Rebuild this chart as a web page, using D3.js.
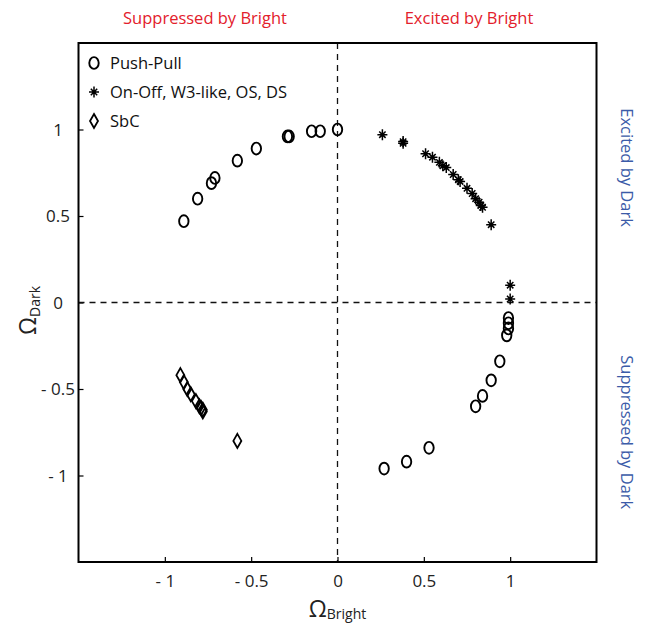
<!DOCTYPE html>
<html>
<head>
	<script src='https://d3js.org/d3.v7.min.js'></script>
	<style type="text/css">
		body { margin: 0; background: #fff; }
		text { font-family: 'Open Sans', sans-serif; }
	</style>
</head>
<body>
	<script type="text/javascript">
		// values
		var pushPullX = [-0.89, -0.81, -0.73, -0.71, -0.58, -0.47, -0.29, -0.28, -0.15, -0.10, 0.00,
			0.99, 0.99, 0.99, 0.98, 0.94, 0.89, 0.84, 0.80, 0.53, 0.40, 0.27];
		var pushPullY = [0.47, 0.60, 0.69, 0.72, 0.82, 0.89, 0.96, 0.96, 0.99, 0.99, 1.00,
			-0.09, -0.12, -0.15, -0.19, -0.34, -0.45, -0.54, -0.60, -0.84, -0.92, -0.96];

		var onOffX = [0.26, 0.38, 0.38, 0.51, 0.55, 0.59, 0.61, 0.63, 0.67, 0.70, 0.71, 0.75, 0.78, 0.80, 0.82, 0.83, 0.84, 0.89, 1.00, 1.00];
		var onOffY = [0.97, 0.93, 0.92, 0.86, 0.84, 0.81, 0.79, 0.78, 0.74, 0.71, 0.70, 0.66, 0.63, 0.60, 0.58, 0.56, 0.55, 0.45, 0.10, 0.02];

		var sbcX = [-0.91, -0.89, -0.87, -0.85, -0.82, -0.80, -0.79, -0.78, -0.78, -0.58];
		var sbcY = [-0.42, -0.46, -0.50, -0.53, -0.57, -0.60, -0.61, -0.62, -0.63, -0.80];

		var tickValues = [-1, -0.5, 0, 0.5, 1];
		var legendNames = ['Push-Pull', 'On-Off, W3-like, OS, DS', 'SbC'];

		var box = { left: 78.5, right: 596.5, top: 43, bottom: 562 };

		var svg = d3.select('body')
			.append('svg')
				.attr('width', 649)
				.attr('height', 627);

		var x = d3.scaleLinear().domain([-1.5, 1.5]).range([box.left, box.right]),
			y = d3.scaleLinear().domain([-1.5, 1.5]).range([box.bottom, box.top]);

		function fmt(d) {
			return d < 0 ? '- ' + Math.abs(d) : String(d);
		}

		/** axes, ticks inside **/
		var xAxis = svg.append('g')
			.attr('transform', 'translate(0,' + box.bottom + ')')
			.call(d3.axisBottom(x).tickValues(tickValues).tickFormat(fmt).tickSize(-5).tickPadding(11));
		var yAxis = svg.append('g')
			.attr('transform', 'translate(' + box.left + ',0)')
			.call(d3.axisLeft(y).tickValues(tickValues).tickFormat(fmt).tickSize(-5).tickPadding(0));

		[xAxis, yAxis].forEach(function(a) {
			a.select('.domain').remove();
			a.selectAll('.tick line').attr('stroke', '#000').attr('stroke-width', 1.2);
			a.selectAll('.tick text')
				.style('font-family', "'Open Sans', sans-serif")
				.style('font-size', '17px')
				.attr('fill', '#222');
		});
		yAxis.selectAll('.tick text')
			.attr('text-anchor', 'middle')
			.attr('x', 58 - box.left)
			.attr('dy', '0.35em');
		xAxis.selectAll('.tick text').attr('dy', '0.8em');

		// zero lines
		svg.append('line')
			.attr('x1', x(0)).attr('x2', x(0))
			.attr('y1', box.top).attr('y2', box.bottom)
			.attr('stroke', '#111').attr('stroke-width', 1.3)
			.attr('stroke-dasharray', '6,5');
		svg.append('line')
			.attr('x1', box.left).attr('x2', box.right)
			.attr('y1', y(0)).attr('y2', y(0))
			.attr('stroke', '#111').attr('stroke-width', 1.3)
			.attr('stroke-dasharray', '6,5');

		svg.append('rect')
			.attr('x', box.left).attr('y', box.top)
			.attr('width', box.right - box.left)
			.attr('height', box.bottom - box.top)
			.attr('fill', 'none')
			.attr('stroke', '#000')
			.attr('stroke-width', 2);

		/** marker shapes **/
		function circle(g) {
			g.append('ellipse')
				.attr('rx', 4.7).attr('ry', 5.9)
				.attr('fill', 'none').attr('stroke', '#000').attr('stroke-width', 1.9);
		}
		function star(g) {
			g.append('path')
				.attr('d', 'M0,-5.5V5.5M-5,0H5M-3.2,-3.2L3.2,3.2M-3.2,3.2L3.2,-3.2')
				.attr('fill', 'none').attr('stroke', '#000').attr('stroke-width', 1.5);
		}
		function diamond(g) {
			g.append('path')
				.attr('d', 'M0,-7L4,0L0,7L-4,0Z')
				.attr('fill', 'none').attr('stroke', '#000').attr('stroke-width', 1.8);
		}

		function plotSeries(xs, ys, shape) {
			var pts = xs.map(function(v, i) { return [v, ys[i]]; });
			svg.append('g').selectAll('g')
				.data(pts).enter()
				.append('g')
					.attr('transform', function(d) {
						return 'translate(' + x(d[0]) + ',' + y(d[1]) + ')';
					})
					.each(function() { shape(d3.select(this)); });
		}

		plotSeries(pushPullX, pushPullY, circle);
		plotSeries(onOffX, onOffY, star);
		plotSeries(sbcX, sbcY, diamond);

		/** legend **/
		var shapes = [circle, star, diamond];
		var legend = svg.append('g');
		legendNames.forEach(function(name, i) {
			var row = legend.append('g')
				.attr('transform', 'translate(94,' + (63 + i * 29) + ')');
			shapes[i](row.append('g'));
			row.append('text')
				.attr('x', 16)
				.attr('dy', '0.36em')
				.style('font-size', '16.5px')
				.attr('fill', '#111')
				.text(name);
		});

		/** axis labels **/
		var xl = svg.append('text')
			.attr('x', x(0))
			.attr('y', 617)
			.attr('text-anchor', 'middle')
			.attr('fill', '#222');
		xl.append('tspan').style('font-size', '23px').text('\u03A9');
		xl.append('tspan').style('font-size', '14px').attr('dy', 2).text('Bright');

		var yl = svg.append('text')
			.attr('transform', 'translate(36,' + (y(0) + 8) + ') rotate(-90)')
			.attr('text-anchor', 'middle')
			.attr('fill', '#222');
		yl.append('tspan').style('font-size', '23px').text('\u03A9');
		yl.append('tspan').style('font-size', '14px').attr('dy', 4).text('Dark');

		/** quadrant labels **/
		var red = '#e3202b', blue = '#3b5ba8';
		svg.append('text')
			.attr('x', 205).attr('y', 24)
			.attr('text-anchor', 'middle')
			.style('font-size', '16.5px')
			.attr('fill', red)
			.text('Suppressed by Bright');
		svg.append('text')
			.attr('x', 469).attr('y', 24)
			.attr('text-anchor', 'middle')
			.style('font-size', '16.5px')
			.attr('fill', red)
			.text('Excited by Bright');

		svg.append('text')
			.attr('transform', 'translate(621,' + y(0.78) + ') rotate(90)')
			.attr('text-anchor', 'middle')
			.style('font-size', '16.5px')
			.attr('fill', blue)
			.text('Excited by Dark');
		svg.append('text')
			.attr('transform', 'translate(621,' + y(-0.75) + ') rotate(90)')
			.attr('text-anchor', 'middle')
			.style('font-size', '16.5px')
			.attr('fill', blue)
			.text('Suppressed by Dark');
	</script>
</body>
</html>
